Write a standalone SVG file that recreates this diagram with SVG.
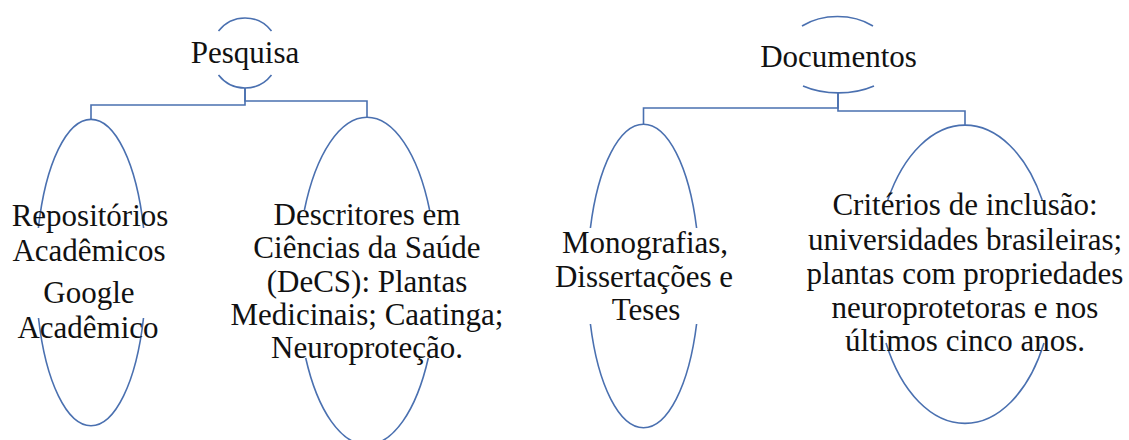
<svg xmlns="http://www.w3.org/2000/svg" width="1129" height="440" viewBox="0 0 1129 440">
<style>
.sh{fill:none;stroke:#4a70b0;stroke-width:1.6}
.cn{fill:none;stroke:#4a70b0;stroke-width:1.6}
.t{font-family:'Liberation Serif','DejaVu Serif',serif;font-size:31px;fill:#111;text-anchor:middle}
</style>
<rect width="1129" height="440" fill="#fff"/>
<g id="connectors">
<path class="cn" d="M245,88 V105 H91 V119"/>
<path class="cn" d="M245,88 V101 H367 V117"/>
<path class="cn" d="M838,93 V108 H643.5 V124"/>
<path class="cn" d="M838,93 V111 H965 V125"/>
</g>
<g id="pesquisa">
<path class="sh" d="M218.5,31 A34,35 0 0 1 271.5,31"/>
<path class="sh" d="M271.5,75 A34,35 0 0 1 218.5,75"/>
<text class="t" x="245" y="63">Pesquisa</text>
</g>
<g id="documentos">
<path class="sh" d="M802,26 A55,40 0 0 1 873,26"/>
<path class="sh" d="M874,86 A61,37 0 0 1 803,86"/>
<text class="t" x="838.5" y="67">Documentos</text>
</g>
<g id="repositorios">
<path class="sh" d="M38.4,228 A55,153.5 0 0 1 143.6,228"/>
<path class="sh" d="M143.5,318 A55,153.5 0 0 1 38.5,318"/>
<text class="t" x="90" y="226">Repositórios</text>
<text class="t" x="89" y="261">Acadêmicos</text>
<text class="t" x="89" y="303">Google</text>
<text class="t" x="88" y="338">Acadêmico</text>
</g>
<g id="descritores">
<path class="sh" d="M304.4,210 A69.5,164 0 0 1 429.6,210"/>
<path class="sh" d="M428.3,358 A69.5,164 0 0 1 305.7,358"/>
<text class="t" x="367" y="225">Descritores em</text>
<text class="t" x="367" y="258">Ciências da Saúde</text>
<text class="t" x="367" y="292">(DeCS): Plantas</text>
<text class="t" x="367" y="325">Medicinais; Caatinga;</text>
<text class="t" x="367" y="358">Neuroproteção.</text>
</g>
<g id="monografias">
<path class="sh" d="M590.4,228 A56,152 0 0 1 696.6,228"/>
<path class="sh" d="M696.6,324 A56,152 0 0 1 590.4,324"/>
<text class="t" x="645" y="253">Monografias,</text>
<text class="t" x="644" y="287">Dissertações e</text>
<text class="t" x="646" y="320">Teses</text>
</g>
<g id="criterios">
<path class="sh" d="M887.8,200 A89,149 0 0 1 1042.2,200"/>
<path class="sh" d="M1044,343 A89,149 0 0 1 886,343"/>
<text class="t" x="965" y="215">Critérios de inclusão:</text>
<text class="t" x="965" y="250">universidades brasileiras;</text>
<text class="t" x="965" y="284">plantas com propriedades</text>
<text class="t" x="965" y="318">neuroprotetoras e nos</text>
<text class="t" x="965" y="351">últimos cinco anos.</text>
</g>
</svg>
